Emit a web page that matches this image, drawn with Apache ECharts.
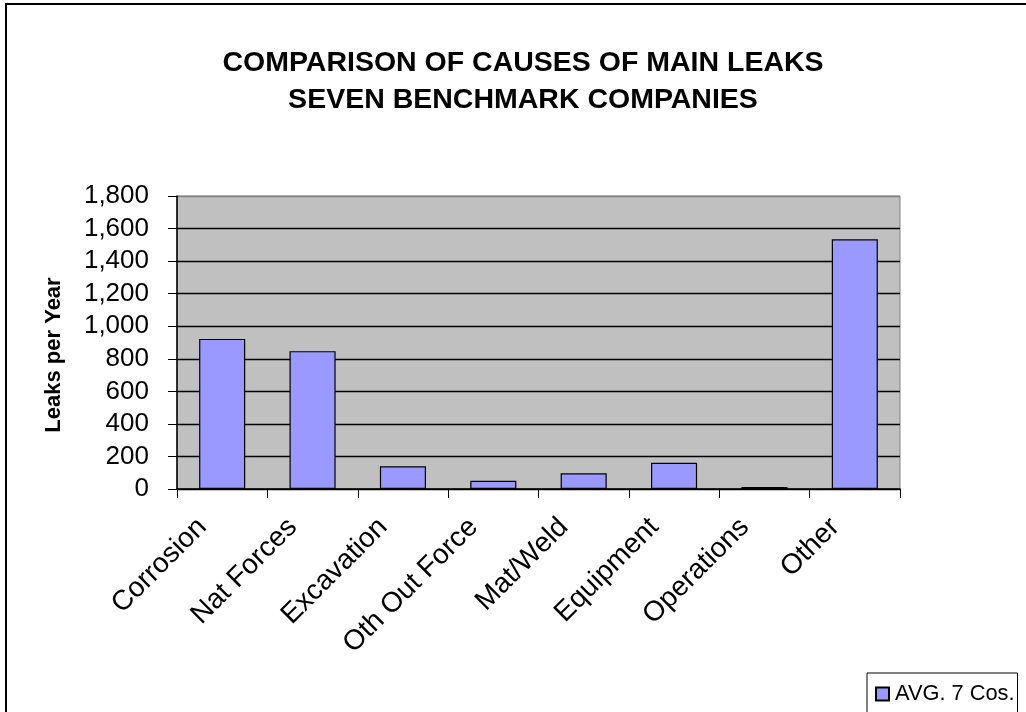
<!DOCTYPE html>
<html>
<head>
<meta charset="utf-8">
<title>Comparison of Causes of Main Leaks</title>
<script src="https://cdn.jsdelivr.net/npm/echarts@6/dist/echarts.min.js"></script>
<style>
  html, body { margin: 0; padding: 0; background: #ffffff; }
  #chart { width: 1026px; height: 712px; }
</style>
</head>
<body>
<div id="chart"></div>
<script>
// Leak causes and the seven-company average leaks per year
const categories = ['Corrosion', 'Nat Forces', 'Excavation', 'Oth Out Force', 'Mat/Weld', 'Equipment', 'Operations', 'Other'];
const avgLeaks = [922, 847, 139, 51, 96, 161, 12, 1534];
const seriesName = 'AVG. 7 Cos.';
const titleLines = ['COMPARISON OF CAUSES OF MAIN LEAKS', 'SEVEN BENCHMARK COMPANIES'];
const yAxisName = 'Leaks per Year';
const yMin = 0, yMax = 1800, yStep = 200;

const FONT = '"Liberation Sans", Arial, sans-serif';

// one colour per horizontal gridline; the top one blends into the grey plot border
const gridColors = [];
for (let v = yMin; v <= yMax; v += yStep) gridColors.push(v === yMax ? '#808080' : '#000000');

const chart = echarts.init(document.getElementById('chart'), null, { renderer: 'canvas' });

chart.setOption({
  animation: false,
  backgroundColor: '#ffffff',
  textStyle: { fontFamily: FONT },
  title: {
    text: titleLines.join('\n'),
    left: 518,
    top: 40,
    textAlign: 'center',
    textStyle: { fontFamily: FONT, fontSize: 28.5, fontWeight: 'bold', color: '#000', lineHeight: 37 }
  },
  legend: {
    data: [seriesName],
    left: 867,
    top: 673,
    orient: 'horizontal',
    icon: 'rect',
    itemWidth: 13,
    itemHeight: 13,
    itemGap: 6,
    padding: [10, 3, 40, 8],
    borderColor: '#000',
    borderWidth: 1,
    textStyle: { fontFamily: FONT, fontSize: 21.8, color: '#000', padding: [0, 0, 0, 1] }
  },
  grid: {
    left: 177,
    right: 126,
    top: 196,
    bottom: 223,
    show: true,
    backgroundColor: '#C0C0C0',
    borderColor: '#808080',
    borderWidth: 1
  },
  xAxis: {
    type: 'category',
    data: categories,
    boundaryGap: true,
    axisLine: { show: true, lineStyle: { color: '#000', width: 1.5 } },
    axisTick: { show: true, inside: false, length: 9, lineStyle: { color: '#000', width: 1 } },
    axisLabel: {
      interval: 0,
      rotate: 45,
      margin: 14,
      padding: [0, 28, 0, 0],
      fontFamily: FONT,
      fontSize: 28,
      color: '#000'
    },
    splitLine: { show: false }
  },
  yAxis: {
    type: 'value',
    min: yMin,
    max: yMax,
    interval: yStep,
    name: yAxisName,
    nameLocation: 'middle',
    nameRotate: 90,
    nameGap: 112,
    nameTextStyle: { fontFamily: FONT, fontSize: 22, fontWeight: 'bold', color: '#000', padding: [0, 25, 0, 0] },
    axisLine: { show: true, lineStyle: { color: '#000', width: 1.5 } },
    axisTick: { show: true, inside: false, length: 9, lineStyle: { color: '#000', width: 1 } },
    axisLabel: {
      margin: 28,
      fontFamily: FONT,
      fontSize: 26,
      color: '#000',
      padding: [3, 0, 0, 0],
      formatter: v => v.toLocaleString('en-US')
    },
    splitLine: { show: true, lineStyle: { color: gridColors, width: 1.4 } }
  },
  series: [{
    name: seriesName,
    type: 'bar',
    data: avgLeaks,
    barCategoryGap: '49%',
    itemStyle: { color: '#9999FF', borderColor: '#000', borderWidth: 1.2 },
    emphasis: { disabled: true }
  }],
  graphic: [{
    // chart-area frame; runs off the right and bottom edges of the page
    type: 'rect',
    shape: { x: 6, y: 4, width: 1100, height: 800 },
    style: { fill: null, stroke: '#000', lineWidth: 2 },
    silent: true
  }]
});
</script>
</body>
</html>
